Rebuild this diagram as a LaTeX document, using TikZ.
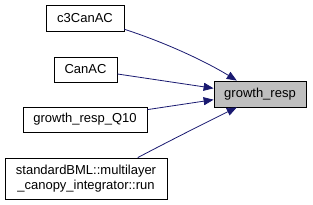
\documentclass[tikz,border=0pt]{standalone}
\usepackage{fontspec}
\setmainfont{Liberation Sans}
\usetikzlibrary{arrows.meta}
\definecolor{edgeclr}{HTML}{191970}
\definecolor{selfill}{HTML}{BFBFBF}
\tikzset{
  fn/.style      = {draw=black, line width=0.8pt, fill=white, inner sep=0pt,
                    align=center, font=\fontsize{13}{15}\selectfont},
  current/.style = {fn, fill=selfill},
  call/.style    = {draw=edgeclr, line width=0.8pt,
                    -{Triangle[length=10pt,width=8pt]}},
}
\begin{document}
\begin{tikzpicture}[x=1pt, y=-1pt]

\useasboundingbox (0,0) rectangle (313,205);

%% --- callers ---------------------------------------------------------
\node[fn, minimum width=78pt,  minimum height=26pt] (c3canac) at (85,18)    {c3CanAC};
\node[fn, minimum width=63pt,  minimum height=25pt] (canac)   at (85.5,69.5) {CanAC};
\node[fn, minimum width=124pt, minimum height=25pt] (q10)     at (85,119.5) {growth\_resp\_Q10};
\node[fn, minimum width=162pt, minimum height=41pt] (mlrun)   at (86,178.5)
  {standardBML::multilayer\\\_canopy\_integrator::run};

%% --- callee ----------------------------------------------------------
\node[current, minimum width=92pt, minimum height=26pt] (growth) at (260,94) {growth\_resp};

%% --- edges -----------------------------------------------------------
\draw[call] (c3canac.-16) .. controls (170,44) and (210,64) .. (growth.150);
\draw[call] (canac.-8) -- (growth.173);
\draw[call] (q10.9) -- (growth.187);
\draw[call] (mlrun.22) .. controls (175,138) and (215,118) .. (growth.210);

\end{tikzpicture}
\end{document}
